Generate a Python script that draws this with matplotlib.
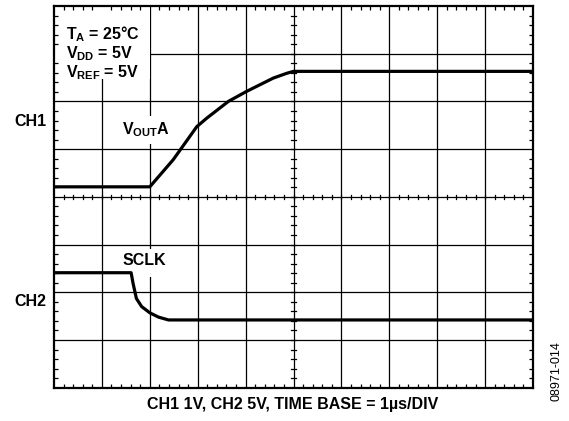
import matplotlib
matplotlib.use("Agg")
import matplotlib.pyplot as plt
from matplotlib.patches import Rectangle
import numpy as np

plt.rcParams['font.family'] = ['Liberation Sans', 'DejaVu Sans']
plt.rcParams['mathtext.fontset'] = 'custom'
plt.rcParams['mathtext.rm'] = 'Liberation Sans:bold'
plt.rcParams['mathtext.it'] = 'Liberation Sans:bold'
plt.rcParams['mathtext.bf'] = 'Liberation Sans:bold'

# Data (time in divisions, amplitude in divisions)
vout_t = [0, 2.0, 2.49, 2.98, 3.19, 3.64, 4.02, 4.58, 4.86, 5.0, 10]
vout_v = [4.21, 4.21, 4.78, 5.47, 5.65, 6.00, 6.21, 6.49, 6.59, 6.63, 6.63]
sclk_t = [0, 1.61, 1.65, 1.72, 1.83, 2.0, 2.18, 2.39, 10]
sclk_v = [2.41, 2.41, 2.19, 1.87, 1.70, 1.57, 1.48, 1.42, 1.42]

channel_labels = ["CH1", "CH2"]
xlabel = "CH1 1V, CH2 5V, TIME BASE = 1µs/DIV"

fig = plt.figure(figsize=(5.69, 4.21), dpi=100)
ax = fig.add_axes([54/569, 1-387.7/421, (533-54)/569, (387.7-6)/421])
ax.set_xlim(0, 10)
ax.set_ylim(0, 8)

# grid
for xv in range(1, 10):
    ax.axvline(xv, color='black', lw=0.9, zorder=1)
for yv in range(1, 8):
    ax.axhline(yv, color='black', lw=0.9, zorder=1)

# center crosshair ticks
for xv in np.arange(0.2, 10, 0.2):
    ax.plot([xv, xv], [4 - 0.045, 4 + 0.045], color='black', lw=0.9, zorder=1)
for yv in np.arange(0.2, 8, 0.2):
    ax.plot([5 - 0.045, 5 + 0.045], [yv, yv], color='black', lw=0.9, zorder=1)

# white backgrounds behind labels
ax.add_patch(Rectangle((0, 6.47), 2.0, 1.53, facecolor='white', edgecolor='none', zorder=1.2))
ax.add_patch(Rectangle((1.35, 5.1), 1.3, 0.6, facecolor='white', edgecolor='none', zorder=1.2))
ax.add_patch(Rectangle((1.35, 2.32), 1.1, 0.58, facecolor='white', edgecolor='none', zorder=1.2))

# traces
ax.plot(vout_t, vout_v, color='black', lw=2.3, solid_joinstyle='round', zorder=3)
ax.plot(sclk_t, sclk_v, color='black', lw=2.3, solid_joinstyle='round', zorder=3)

# ticks
ax.set_xticks(range(0, 11))
ax.set_yticks(range(0, 9))
ax.set_xticks(np.arange(0, 10.01, 0.2), minor=True)
ax.set_yticks(np.arange(0, 8.01, 0.2), minor=True)
ax.tick_params(which='both', direction='in', top=True, right=True,
               labelbottom=False, labelleft=False)
ax.tick_params(which='major', length=0)
ax.tick_params(which='minor', length=3, width=0.9)
ax.set_axisbelow(False)
for s in ax.spines.values():
    s.set_linewidth(1.6)

fs = 11.5
ax.text(0.25, 7.42, r'$T_A$ = 25°C', fontsize=fs, fontweight='bold', va='center', ha='left', zorder=5)
ax.text(0.25, 7.0, r'$V_{DD}$ = 5V', fontsize=fs, fontweight='bold', va='center', ha='left', zorder=5)
ax.text(0.25, 6.6, r'$V_{REF}$ = 5V', fontsize=fs, fontweight='bold', va='center', ha='left', zorder=5)
ax.text(1.43, 5.4, r'$V_{OUT}$A', fontsize=fs, fontweight='bold', va='center', ha='left', zorder=5)
ax.text(1.43, 2.66, 'SCLK', fontsize=fs, fontweight='bold', va='center', ha='left', zorder=5)

fig.text(30/569, 1-121/421, channel_labels[0], fontsize=fs, fontweight='bold', ha='center', va='center')
fig.text(30/569, 1-302/421, channel_labels[1], fontsize=fs, fontweight='bold', ha='center', va='center')
fig.text(293/569, 1-405/421, xlabel, fontsize=fs, fontweight='bold', ha='center', va='center')
fig.text(556/569, 1-371/421, '08971-014', fontsize=9, rotation=90, ha='center', va='center')

fig.savefig('out.png', dpi=100)
